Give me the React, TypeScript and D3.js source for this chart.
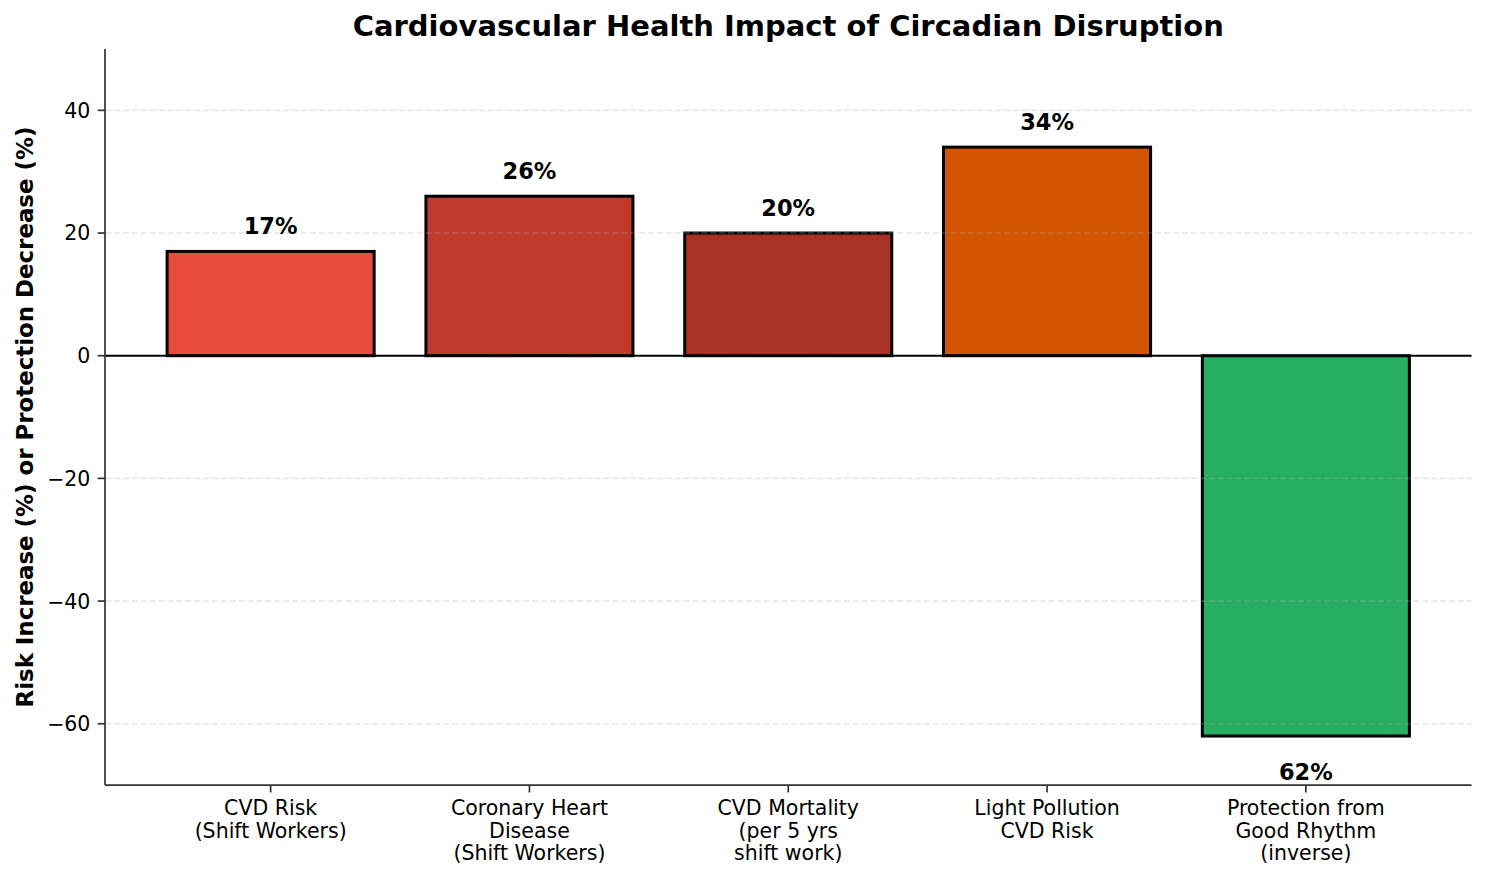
import { useEffect, useRef } from "react";
import * as d3 from "d3";

const CATEGORIES = [
  ["CVD Risk", "(Shift Workers)"],
  ["Coronary Heart", "Disease", "(Shift Workers)"],
  ["CVD Mortality", "(per 5 yrs", "shift work)"],
  ["Light Pollution", "CVD Risk"],
  ["Protection from", "Good Rhythm", "(inverse)"],
];

const VALUES = [17, 26, 20, 34, -62];
const BAR_LABELS = ["17%", "26%", "20%", "34%", "62%"];

const COLORS = ["#e74c3c", "#c0392b", "#a93226", "#d35400", "#27ae60"];

const Y_TICKS = [-60, -40, -20, 0, 20, 40];

const FONT = "'DejaVu Sans', sans-serif";

export default function App() {
  const svgRef = useRef<SVGSVGElement>(null);
  const width = 1485;
  const height = 881;

  useEffect(() => {
    if (!svgRef.current) return;
    const svg = d3.select(svgRef.current);
    svg.selectAll("*").remove();

    const left = 105;
    const right = 1471.5;
    const top = 49;
    const bottom = 785.1;

    const x = d3.scaleLinear().domain([-0.64, VALUES.length - 1 + 0.64]).range([left, right]);
    const y = d3.scaleLinear().domain([-70, 50]).range([bottom, top]);
    const barW = x(0.8) - x(0);

    svg.append("rect").attr("width", width).attr("height", height).attr("fill", "#fff");

    // Bars
    svg
      .append("g")
      .selectAll("rect")
      .data(VALUES)
      .join("rect")
      .attr("x", (_, i) => x(i) - barW / 2)
      .attr("y", (d) => y(Math.max(0, d)))
      .attr("width", barW)
      .attr("height", (d) => Math.abs(y(d) - y(0)))
      .attr("fill", (_, i) => COLORS[i])
      .attr("stroke", "#000")
      .attr("stroke-width", 3);

    // Grid (drawn above bars, like the original)
    Y_TICKS.forEach((t) => {
      svg
        .append("line")
        .attr("x1", left)
        .attr("x2", right)
        .attr("y1", y(t))
        .attr("y2", y(t))
        .attr("stroke", "#b0b0b0")
        .attr("stroke-opacity", 0.3)
        .attr("stroke-width", 1.6)
        .attr("stroke-dasharray", "6.2,2.7");
    });

    // Zero line
    svg
      .append("line")
      .attr("x1", left)
      .attr("x2", right)
      .attr("y1", y(0))
      .attr("y2", y(0))
      .attr("stroke", "#000")
      .attr("stroke-width", 2);

    // Value labels
    svg
      .append("g")
      .selectAll("text")
      .data(VALUES)
      .join("text")
      .attr("x", (_, i) => x(i))
      .attr("y", (d) => (d >= 0 ? y(d) - 17 : y(d) + 43.5))
      .attr("text-anchor", "middle")
      .attr("font-family", FONT)
      .attr("font-weight", "bold")
      .attr("font-size", "22.5px")
      .attr("fill", "#000")
      .text((_, i) => BAR_LABELS[i]);

    // Spines
    svg
      .append("line")
      .attr("x1", left)
      .attr("x2", left)
      .attr("y1", top)
      .attr("y2", bottom)
      .attr("stroke", "#333")
      .attr("stroke-width", 1.7);
    svg
      .append("line")
      .attr("x1", left)
      .attr("x2", right)
      .attr("y1", bottom)
      .attr("y2", bottom)
      .attr("stroke", "#333")
      .attr("stroke-width", 1.7);

    // Y ticks
    const yAxis = svg.append("g");
    Y_TICKS.forEach((t) => {
      yAxis
        .append("line")
        .attr("x1", left - 7.3)
        .attr("x2", left)
        .attr("y1", y(t))
        .attr("y2", y(t))
        .attr("stroke", "#333")
        .attr("stroke-width", 1.7);
      yAxis
        .append("text")
        .attr("x", left - 14.6)
        .attr("y", y(t))
        .attr("dy", "0.364em")
        .attr("text-anchor", "end")
        .attr("font-family", FONT)
        .attr("font-size", "20.5px")
        .attr("fill", "#000")
        .text(d3.format("d")(t));
    });

    // X ticks and category labels
    const xAxis = svg.append("g");
    CATEGORIES.forEach((lines, i) => {
      xAxis
        .append("line")
        .attr("x1", x(i))
        .attr("x2", x(i))
        .attr("y1", bottom)
        .attr("y2", bottom + 7.3)
        .attr("stroke", "#333")
        .attr("stroke-width", 1.7);
      const t = xAxis
        .append("text")
        .attr("text-anchor", "middle")
        .attr("font-family", FONT)
        .attr("font-size", "20.5px")
        .attr("fill", "#000");
      lines.forEach((ln, j) => {
        t.append("tspan")
          .attr("x", x(i))
          .attr("y", bottom + 30 + j * 22.4)
          .text(ln);
      });
    });

    // Y label
    svg
      .append("text")
      .attr("transform", `translate(33,${(top + bottom) / 2}) rotate(-90)`)
      .attr("text-anchor", "middle")
      .attr("font-family", FONT)
      .attr("font-weight", "bold")
      .attr("font-size", "22.9px")
      .attr("fill", "#000")
      .text("Risk Increase (%) or Protection Decrease (%)");

    // Title
    svg
      .append("text")
      .attr("x", (left + right) / 2)
      .attr("y", 36)
      .attr("text-anchor", "middle")
      .attr("font-family", FONT)
      .attr("font-weight", "bold")
      .attr("font-size", "29px")
      .attr("fill", "#000")
      .text("Cardiovascular Health Impact of Circadian Disruption");
  }, []);

  return (
    <svg
      ref={svgRef}
      width={width}
      height={height}
      style={{ position: "absolute", left: 0, top: 0 }}
    />
  );
}
